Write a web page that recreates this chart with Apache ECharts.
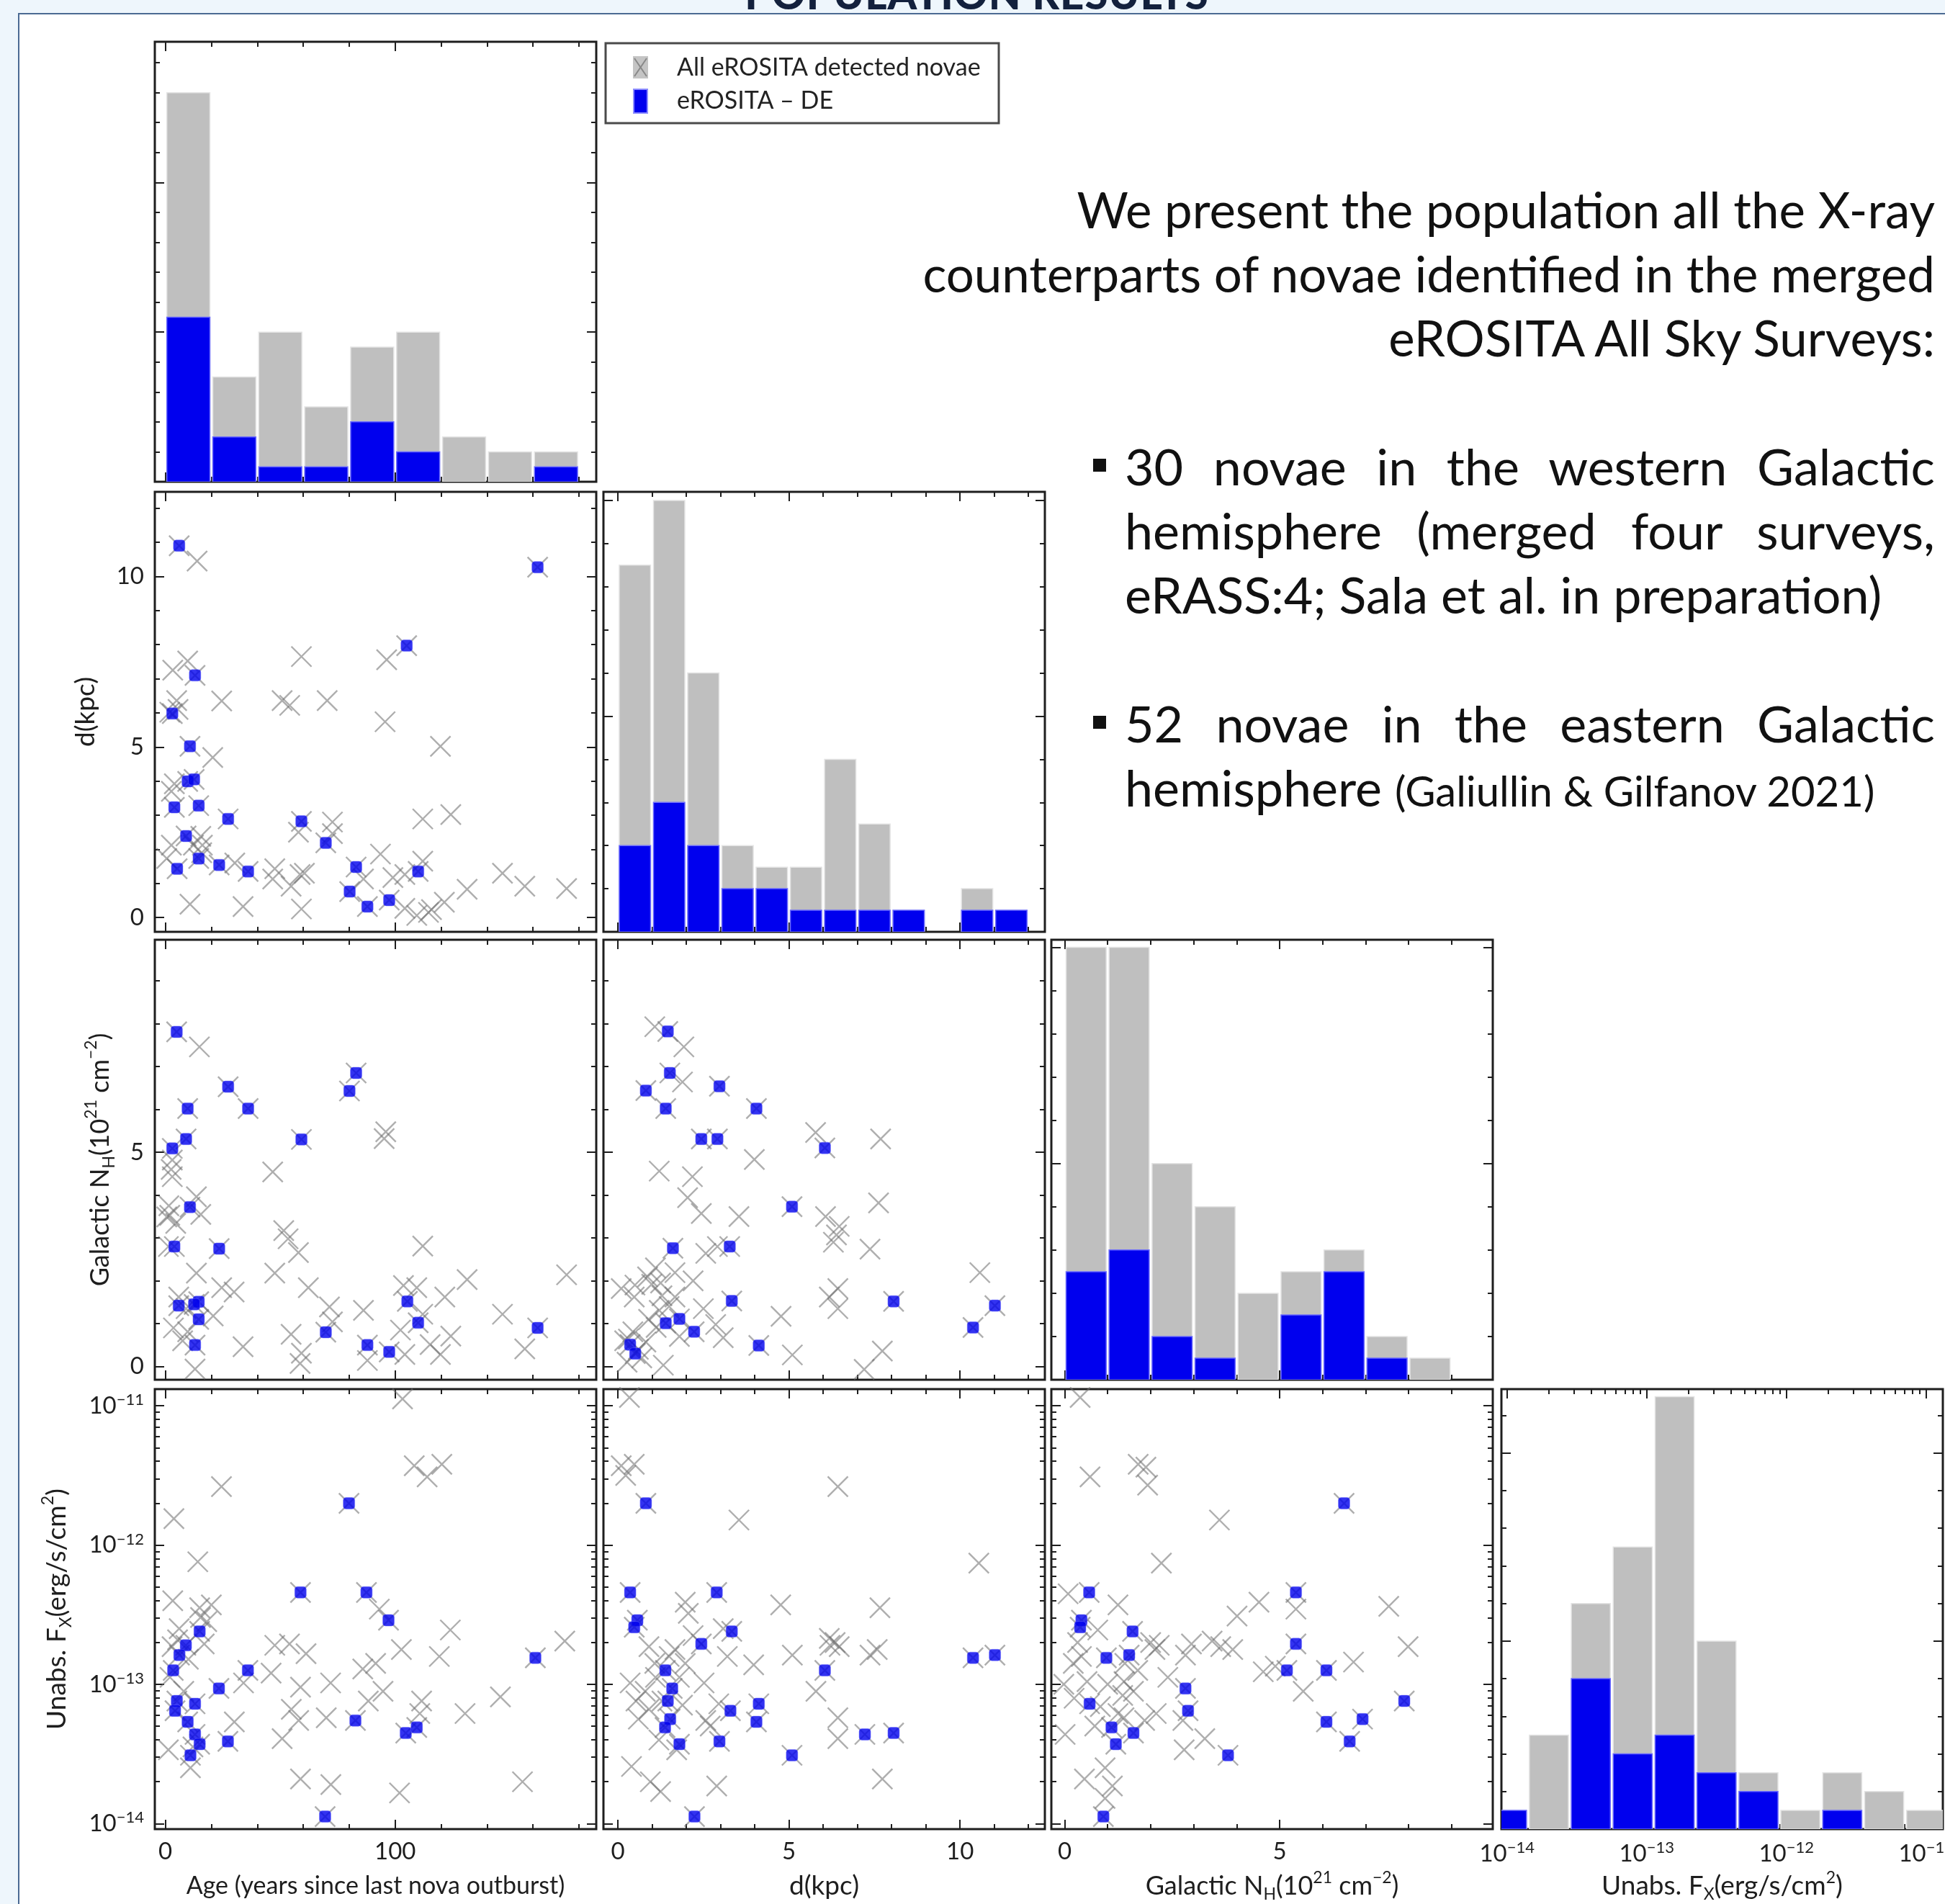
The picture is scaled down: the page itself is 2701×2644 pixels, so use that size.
<!DOCTYPE html>
<html>
<head>
<meta charset="utf-8">
<script src="https://cdn.jsdelivr.net/npm/echarts@6/dist/echarts.min.js"></script>
<style>
  html, body { margin: 0; padding: 0; width: 2701px; height: 2644px; overflow: hidden; background: #eef6fc; }
  #frame { position: absolute; left: 25px; top: 18px; width: 2680px; height: 2630px; background: #fff;
           border-left: 2px solid #4b6a93; border-top: 2px solid #4b6a93; }
  #title { position: absolute; left: 6px; width: 2701px; top: -44px; text-align: center;
           font: 900 58px/70px Lato, sans-serif; color: #13213d; letter-spacing: 1px; white-space: nowrap; }
  #chart { position: absolute; left: 0; top: 0; width: 2701px; height: 2644px; z-index: 1; }
  .txt { position: absolute; z-index: 2; font: 70px/89px Lato, sans-serif; color: #111; white-space: nowrap; }
  #intro { right: 14px; top: 246px; text-align: right; font-size: 69px; }
  .bul { left: 1562px; width: 1125px; }
  .bul .j { text-align: justify; text-align-last: justify; }
  .sq { position: absolute; z-index: 2; left: 1518px; width: 18px; height: 18px; background: #111; }
  .small { font-size: 58px; }
</style>
</head>
<body>
<div id="frame"></div>
<div id="title">POPULATION RESULTS</div>
<div id="chart"></div>
<div id="intro" class="txt">We present the population all the X-ray<br>counterparts of novae identified in the merged<br>eROSITA All Sky Surveys:</div>
<div class="sq" style="top:637px"></div>
<div class="txt bul" style="top:603px">
  <div class="j">30 novae in the western Galactic</div>
  <div class="j">hemisphere (merged four surveys,</div>
  <div>eRASS:4; Sala et al. in preparation)</div>
</div>
<div class="sq" style="top:994px"></div>
<div class="txt bul" style="top:960px">
  <div class="j">52 novae in the eastern Galactic</div>
  <div>hemisphere <span class="small">(Galiullin &amp; Gilfanov 2021)</span></div>
</div>
<script>
// ---- tick values ----
const ageTicksMajor = [0, 100];
const ageTicksMinor = [20, 40, 60, 80, 120, 140, 160, 180];
const dTicksMajor = [0, 5, 10];
const dTicksMinor = [1, 2, 3, 4, 6, 7, 8, 9, 11, 12];
const nhTicksMajor = [0, 5];
const nhTicksMinor = [1, 2, 3, 4, 6, 7, 8, 9];
const fxDecades = [-14, -13, -12, -11];
const countTicksMajor = [0, 10, 20];
const countTicksMinor = [2, 4, 6, 8, 12, 14, 16, 18, 22, 24, 26, 28];

// ---- histograms (counts) ----
const ageBins = [0, 20, 40, 60, 80, 100, 120, 140, 160, 180];
const ageHistAll = [26, 7, 10, 5, 9, 10, 3, 2, 2];
const ageHistDE = [11, 3, 1, 1, 4, 2, 0, 0, 1];
const dBins = [0, 1, 2, 3, 4, 5, 6, 7, 8, 9, 10, 11, 12];
const dHistAll = [17, 20, 12, 4, 3, 3, 8, 5, 1, 0, 2, 1];
const dHistDE = [4, 6, 4, 2, 2, 1, 1, 1, 1, 0, 1, 1];
const nhBins = [0, 1, 2, 3, 4, 5, 6, 7, 8, 9];
const nhHistAll = [20, 20, 10, 8, 4, 5, 6, 2, 1];
const nhHistDE = [5, 6, 2, 1, 0, 3, 5, 1, 0];
const fxBinsLog = [-14.15, -13.85, -13.55, -13.25, -12.95, -12.65, -12.35, -12.05, -11.75, -11.45, -11.15, -10.85];
const fxHistAll = [1, 5, 12, 15, 23, 10, 3, 1, 3, 2, 1];
const fxHistDE = [1, 0, 8, 4, 5, 3, 2, 0, 1, 0, 0];

// ---- scatter points: [x, y]; flux given as log10 ----
const ageD_de = [[6.0,10.9],[162,10.27],[105,7.97],[12.9,7.1],[3.0,5.98],[10.7,5.02],[9.7,3.99],[12.5,4.05],[3.9,3.23],[14.5,3.28],[27.3,2.89],[59.2,2.82],[69.8,2.19],[9.0,2.39],[14.5,1.73],[23.4,1.54],[5.1,1.43],[36.0,1.35],[83.0,1.48],[110.0,1.35],[80.2,0.76],[87.9,0.32],[97.4,0.51]];
const ageD_other = [[13.8,10.45],[59.2,7.65],[96.3,7.56],[3.2,7.25],[9.7,7.52],[4.9,6.36],[24.5,6.35],[50.8,6.36],[54.1,6.22],[70.4,6.36],[95.6,5.74],[119.7,5.02],[20.6,4.69],[1.9,6.02],[5.5,6.1],[3.9,3.92],[2.6,3.7],[112,2.89],[124.2,3.02],[57.9,2.5],[72.7,2.8],[72.7,2.46],[2.6,2.12],[12.2,2.12],[15.4,2.38],[16.1,2.12],[0.6,1.73],[15.8,1.9],[30.2,1.6],[47.6,1.43],[46.7,1.13],[54.7,0.92],[60.5,1.3],[58.6,1.26],[93.6,1.86],[86.2,1.13],[112,1.65],[99,1.17],[104.2,1.26],[146.7,1.3],[131.3,0.83],[156.4,0.92],[174.6,0.85],[10.7,0.39],[33.8,0.32],[59.2,0.25],[104.2,0.27],[109.4,0.06],[114.5,0.15],[121.4,0.45],[115.8,0.23]];

const ageNH_de = [[4.9,7.81],[27.3,6.53],[83.0,6.85],[80.1,6.43],[9.7,6.02],[36.0,6.02],[9.0,5.31],[3.0,5.09],[59.2,5.30],[10.7,3.72],[3.9,2.80],[23.4,2.75],[5.8,1.42],[14.5,1.51],[14.5,1.10],[12.9,0.50],[69.8,0.80],[87.9,0.50],[97.4,0.34],[105.3,1.52],[110.0,1.02],[162,0.90],[12.5,1.45]];
const ageNH_other = [[14.8,7.46],[46.7,4.54],[3.0,4.82],[3.0,4.43],[13.5,3.96],[15.4,3.55],[1.9,3.53],[4.5,3.34],[0.6,3.49],[1.3,2.80],[51.5,3.17],[53.4,2.98],[57.9,2.66],[95.9,5.48],[95.2,5.32],[112,2.81],[13.5,2.18],[47.6,2.18],[24.5,1.84],[29.9,1.74],[20.8,1.18],[5.8,1.62],[9.7,0.81],[62.2,1.84],[71.4,1.39],[72.7,1.04],[86.2,1.31],[54.7,0.75],[33.8,0.46],[59.2,0.31],[58.6,0.07],[12.9,-0.06],[87.9,0.14],[103.6,1.89],[109.4,1.84],[121.6,1.62],[131.3,2.03],[112,1.22],[102.3,0.85],[104.2,0.28],[115.2,0.51],[119.7,0.28],[124.2,0.71],[146.7,1.22],[156.4,0.41],[174.6,2.14],[3.5,0.9],[7.5,0.6],[9.0,1.35],[1.5,3.75],[2.5,4.6]];

const ageFx_de = [[79.9,-11.70],[58.8,-12.34],[87.5,-12.34],[97.1,-12.54],[161,-12.81],[14.9,-12.62],[8.9,-12.72],[6.1,-12.79],[3.4,-12.90],[35.9,-12.90],[23.3,-13.03],[5.0,-13.12],[4.2,-13.19],[12.9,-13.14],[9.7,-13.27],[12.9,-13.36],[14.9,-13.43],[10.9,-13.51],[27.2,-13.41],[82.7,-13.26],[104.6,-13.35],[109.4,-13.31],[69.5,-13.95]];
const ageFx_other = [[103.2,-10.95],[108.3,-11.43],[113.9,-11.51],[120.3,-11.42],[24.4,-11.58],[3.7,-11.81],[14.1,-12.12],[3.2,-12.40],[14.9,-12.45],[20.0,-12.43],[15.3,-12.52],[93.1,-12.46],[124.0,-12.61],[173.8,-12.69],[2.9,-12.73],[5.3,-12.68],[16.9,-12.71],[47.6,-12.72],[54.0,-12.71],[61.2,-12.78],[102.7,-12.75],[119.2,-12.80],[91.5,-12.85],[85.9,-12.89],[46.0,-12.92],[34.0,-12.99],[58.8,-13.02],[71.9,-12.99],[94.7,-13.05],[88.3,-13.12],[111.5,-13.12],[145.8,-13.09],[54.8,-13.18],[58.0,-13.26],[70.0,-13.24],[30.0,-13.27],[110.7,-13.21],[130.4,-13.21],[50.8,-13.39],[1.3,-13.47],[10.9,-13.60],[58.8,-13.68],[72.0,-13.72],[101.9,-13.78],[155.4,-13.70],[6.0,-12.6],[10.0,-12.82],[8.0,-13.05],[2.0,-12.95],[18.0,-12.55],[12.0,-13.45]];

const dNH_de = [[1.46,7.82],[1.52,6.85],[0.82,6.44],[1.40,6.02],[2.97,6.54],[4.05,6.02],[2.44,5.31],[2.91,5.31],[6.05,5.10],[5.09,3.73],[1.61,2.76],[3.27,2.80],[3.33,1.53],[8.06,1.52],[11.02,1.42],[10.38,0.91],[1.40,1.01],[1.80,1.11],[2.23,0.81],[4.12,0.49],[0.36,0.51],[0.51,0.30]];
const dNH_other = [[1.08,7.93],[1.93,7.46],[1.89,6.64],[5.78,5.46],[7.68,5.31],[3.99,4.83],[1.21,4.56],[2.18,4.43],[2.04,3.94],[2.44,3.57],[3.54,3.50],[7.62,3.82],[6.07,3.50],[6.47,3.27],[6.39,3.07],[6.30,2.90],[7.37,2.74],[2.57,2.64],[2.91,2.80],[10.58,2.19],[0.10,1.82],[0.48,1.62],[0.87,2.09],[0.99,1.92],[1.25,1.95],[1.67,2.19],[1.29,1.65],[1.67,1.62],[1.21,1.31],[2.50,1.35],[2.86,0.98],[3.08,0.67],[4.77,1.17],[6.43,1.82],[6.18,1.62],[6.43,1.35],[5.10,0.27],[7.20,-0.07],[7.73,0.36],[1.33,0.03],[0.44,0.81],[0.82,0.57],[0.27,0.10],[0.70,0.20],[1.12,0.91],[0.31,0.64],[0.6,0.4],[0.9,1.1],[1.5,1.4],[0.2,0.6],[1.1,2.3],[2.2,2.0],[0.5,1.9],[1.8,0.7]];

const dFx_de = [[0.82,-11.70],[0.36,-12.34],[2.89,-12.34],[0.57,-12.54],[0.48,-12.59],[3.33,-12.62],[2.44,-12.71],[10.38,-12.81],[11.02,-12.79],[1.39,-12.90],[6.05,-12.90],[1.59,-13.03],[1.46,-13.12],[4.12,-13.14],[3.29,-13.19],[4.05,-13.27],[1.53,-13.25],[1.38,-13.31],[7.22,-13.36],[8.06,-13.35],[1.80,-13.43],[2.97,-13.41],[5.09,-13.51],[2.24,-13.95]];
const dFx_other = [[0.34,-10.94],[0.10,-11.43],[0.48,-11.42],[0.23,-11.50],[6.43,-11.58],[3.54,-11.82],[10.55,-12.13],[4.76,-12.43],[7.66,-12.45],[1.97,-12.41],[2.06,-12.49],[6.18,-12.67],[6.35,-12.70],[6.47,-12.73],[7.58,-12.75],[7.37,-12.79],[5.10,-12.79],[3.97,-12.86],[3.08,-12.60],[0.91,-12.73],[1.08,-12.85],[1.67,-12.75],[1.97,-12.85],[0.36,-12.99],[2.52,-12.99],[5.79,-13.05],[0.53,-13.12],[0.91,-13.18],[2.57,-13.26],[2.95,-13.14],[6.43,-13.24],[6.43,-13.39],[1.72,-13.47],[0.40,-13.59],[0.95,-13.70],[1.25,-13.77],[2.89,-13.73],[7.73,-13.68],[1.29,-13.12],[1.89,-13.15],[1.1,-12.95],[1.8,-12.95],[0.8,-13.05],[2.2,-12.65],[1.5,-12.8],[0.6,-13.25],[2.7,-13.3],[1.2,-13.4],[3.2,-12.8],[6.2,-12.72]];

const nhFx_de = [[6.50,-11.70],[0.57,-12.34],[5.38,-12.34],[0.39,-12.54],[0.36,-12.59],[1.58,-12.62],[5.38,-12.71],[0.97,-12.81],[1.50,-12.79],[5.17,-12.90],[6.09,-12.90],[2.81,-13.03],[0.58,-13.14],[7.90,-13.12],[2.87,-13.19],[1.09,-13.31],[1.60,-13.35],[6.09,-13.27],[6.93,-13.25],[6.63,-13.41],[1.19,-13.43],[3.80,-13.51],[0.90,-13.95]];
const nhFx_other = [[0.36,-10.94],[0.59,-11.51],[1.71,-11.42],[1.89,-11.44],[1.93,-11.57],[3.60,-11.82],[2.25,-12.13],[0.08,-12.35],[1.24,-12.43],[4.01,-12.51],[4.52,-12.41],[5.38,-12.46],[7.54,-12.44],[0.77,-12.61],[0.39,-12.80],[2.0,-12.70],[2.2,-12.72],[2.10,-12.75],[2.81,-12.79],[2.95,-12.71],[3.43,-12.69],[3.63,-12.73],[3.91,-12.75],[7.99,-12.73],[6.72,-12.84],[4.62,-12.91],[4.90,-12.87],[5.55,-13.05],[-0.02,-13.0],[0.52,-12.98],[0.22,-13.10],[1.38,-12.98],[1.35,-13.08],[1.24,-13.21],[1.38,-13.24],[2.13,-13.21],[1.86,-13.26],[2.75,-13.26],[0.83,-13.16],[2.78,-13.47],[3.26,-13.39],[0.01,-13.36],[0.46,-13.68],[0.94,-13.60],[1.11,-13.73],[0.94,-13.82],[0.2,-12.85],[1.0,-13.0],[0.7,-13.3],[1.7,-12.9],[1.4,-12.85],[0.3,-12.7],[1.6,-13.05],[2.4,-12.95]];

// ---- layout ----
const PW = 613, PH = 611;
const colLeft = [215, 838, 1460, 2085];
const rowTop = [58, 683, 1305, 1929];
const FONT = 'Lato';
const INK = '#1e1e1e';
const GRAY_BAR = '#bfbfbf';
const BLUE = '#0000ee';

const fxMinor = [];
[-15, -14, -13, -12, -11].forEach(e => { for (let k = 2; k <= 9; k++) fxMinor.push(k * Math.pow(10, e)); });
const expLabel = v => {
  const e = Math.round(Math.log10(v));
  return '{b|10}{s|' + (e < 0 ? '\u2212' : '') + Math.abs(e) + '}';
};

const AX = {
  age: { type: 'value', min: -4.6, max: 187.5, major: ageTicksMajor, minor: ageTicksMinor, labels: [0, 100] },
  d:   { type: 'value', min: -0.42, max: 12.48, major: dTicksMajor, minor: dTicksMinor, labels: [0, 5, 10] },
  nh:  { type: 'value', min: -0.31, max: 9.96, major: nhTicksMajor, minor: nhTicksMinor, labels: [0, 5] },
  fx:  { type: 'log', min: Math.pow(10, -14.04), max: Math.pow(10, -10.88),
         major: fxDecades.map(e => Math.pow(10, e)), minor: fxMinor,
         labels: fxDecades.map(e => Math.pow(10, e)), fmt: expLabel }
};
const countAxis = max => ({ type: 'value', min: 0, max: max, major: countTicksMajor, minor: countTicksMinor, labels: [] });

const NAMES = {
  age: { text: 'Age (years since last nova outburst)', size: 34 },
  d:   { text: 'd(kpc)', size: 37 },
  nh:  { text: 'Galactic N{sub|H}(10{sup|21} cm{sup|\u22122})', size: 36 },
  fx:  { text: 'Unabs. F{sub|X}(erg/s/cm{sup|2})', size: 37 }
};
const yNameGap = { d: 72, nh: 52, fx: 112 };

const conv = (key, v) => key === 'fx' ? Math.pow(10, v) : v;
const pts = (arr, kx, ky) => arr.map(p => [conv(kx, p[0]), conv(ky, p[1])]);

const panels = [
  { r: 0, c: 0, x: 'age', hist: { bins: ageBins, all: ageHistAll, de: ageHistDE, ymax: 29.4 } },
  { r: 1, c: 0, x: 'age', y: 'd', other: ageD_other, de: ageD_de },
  { r: 1, c: 1, x: 'd', hist: { bins: dBins, all: dHistAll, de: dHistDE, ymax: 20.4 } },
  { r: 2, c: 0, x: 'age', y: 'nh', other: ageNH_other, de: ageNH_de },
  { r: 2, c: 1, x: 'd', y: 'nh', other: dNH_other, de: dNH_de },
  { r: 2, c: 2, x: 'nh', hist: { bins: nhBins, all: nhHistAll, de: nhHistDE, ymax: 20.35 } },
  { r: 3, c: 0, x: 'age', y: 'fx', other: ageFx_other, de: ageFx_de },
  { r: 3, c: 1, x: 'd', y: 'fx', other: dFx_other, de: dFx_de },
  { r: 3, c: 2, x: 'nh', y: 'fx', other: nhFx_other, de: nhFx_de },
  { r: 3, c: 3, x: 'fx', hist: { bins: fxBinsLog, all: fxHistAll, de: fxHistDE, ymax: 23.4 } }
];

const nameRich = {
  sub: { fontFamily: FONT, fontSize: 23, lineHeight: 24, verticalAlign: 'bottom', color: INK },
  sup: { fontFamily: FONT, fontSize: 23, lineHeight: 24, verticalAlign: 'top', color: INK }
};
const labelRich = {
  b: { fontFamily: FONT, fontSize: 33, lineHeight: 38, color: INK },
  s: { fontFamily: FONT, fontSize: 22, lineHeight: 22, verticalAlign: 'top', color: INK }
};

const grids = [], xAxes = [], yAxes = [], series = [];

function pushAxes(list, gi, def, sides, labelled, nameCfg) {
  const first = list.length;
  sides.forEach((side, si) => {
    ['major', 'minor'].forEach(kind => {
      const main = si === 0 && kind === 'major';
      const ax = {
        gridIndex: gi, type: def.type, min: def.min, max: def.max, position: side,
        axisLine: { show: false, onZero: false },
        splitLine: { show: false },
        minorTick: { show: false },
        axisTick: { show: true, inside: true, length: kind === 'major' ? 13 : 7,
                    customValues: def[kind], lineStyle: { color: INK, width: 2 } },
        axisLabel: { show: false }
      };
      if (def.type === 'log') ax.logBase = 10;
      if (main && labelled) {
        ax.axisLabel = { show: true, customValues: def.labels, margin: 15,
                         fontFamily: FONT, fontSize: 33, color: INK, rich: labelRich };
        if (def.fmt) ax.axisLabel.formatter = def.fmt;
      }
      if (main && nameCfg) Object.assign(ax, nameCfg);
      list.push(ax);
    });
  });
  return first;
}

panels.forEach((p, gi) => {
  grids.push({ left: colLeft[p.c], top: rowTop[p.r], width: PW, height: PH, show: true,
               borderColor: INK, borderWidth: 3, backgroundColor: '#fff', containLabel: false,
               outerBoundsMode: 'none' });
  const xdef = AX[p.x];
  const ydef = p.hist ? countAxis(p.hist.ymax) : AX[p.y];
  const xName = p.r === 3 ? {
    name: NAMES[p.x].text, nameLocation: 'middle', nameGap: 56,
    nameTextStyle: { fontFamily: FONT, fontSize: NAMES[p.x].size, lineHeight: 46, color: INK, rich: nameRich }
  } : null;
  const yName = (p.c === 0 && !p.hist) ? {
    name: NAMES[p.y].text, nameLocation: 'middle', nameRotate: 90, nameGap: yNameGap[p.y],
    nameTextStyle: { fontFamily: FONT, fontSize: NAMES[p.y].size, lineHeight: 48, color: INK, rich: nameRich }
  } : null;
  const xi = pushAxes(xAxes, gi, xdef, ['bottom', 'top'], p.r === 3, xName);
  const yi = pushAxes(yAxes, gi, ydef, ['left', 'right'], p.c === 0 && !p.hist, yName);

  if (p.hist) {
    const toX = p.x === 'fx' ? (v => Math.pow(10, v)) : (v => v);
    const mk = (counts, color, edge, z) => ({
      type: 'custom', xAxisIndex: xi, yAxisIndex: yi, clip: true, z: z,
      data: counts.map((c, i) => [toX(p.hist.bins[i]), toX(p.hist.bins[i + 1]), c]).filter(d => d[2] > 0),
      encode: { x: [0, 1], y: 2 },
      renderItem: (params, api) => {
        const a = api.coord([api.value(0), api.value(2)]);
        const b = api.coord([api.value(1), 0]);
        return { type: 'rect',
                 shape: { x: a[0] + 2, y: a[1], width: b[0] - a[0] - 4, height: b[1] - a[1] },
                 style: { fill: color, stroke: edge, lineWidth: 1.5 } };
      }
    });
    series.push(mk(p.hist.all, GRAY_BAR, '#e4e4e4', 2));
    series.push(mk(p.hist.de, BLUE, '#6a6aff', 3));
  } else {
    series.push({
      type: 'scatter', xAxisIndex: xi, yAxisIndex: yi, z: 3,
      data: pts(p.other.concat(p.de), p.x, p.y),
      symbol: 'path://M0,0L10,10M10,0L0,10', symbolSize: 28,
      itemStyle: { color: 'none', borderColor: 'rgba(110,110,110,0.7)', borderWidth: 2.4 }
    });
    series.push({
      type: 'scatter', xAxisIndex: xi, yAxisIndex: yi, z: 4,
      data: pts(p.de, p.x, p.y),
      symbol: 'roundRect', symbolSize: 16,
      itemStyle: { color: BLUE, borderColor: 'rgba(110,110,255,0.6)', borderWidth: 1 }
    });
  }
});

const legend = [
  { type: 'rect', shape: { x: 841, y: 60, width: 546, height: 111 }, style: { fill: '#fff', stroke: '#4a4a4a', lineWidth: 3 } },
  { type: 'rect', shape: { x: 879, y: 78, width: 21, height: 31 }, style: { fill: '#c4c4c4' } },
  { type: 'line', shape: { x1: 881, y1: 81, x2: 898, y2: 106 }, style: { stroke: '#888', lineWidth: 2 } },
  { type: 'line', shape: { x1: 898, y1: 81, x2: 881, y2: 106 }, style: { stroke: '#888', lineWidth: 2 } },
  { type: 'text', x: 940, y: 94, style: { text: 'All eROSITA detected novae', font: '34px Lato', fill: '#222', verticalAlign: 'middle' } },
  { type: 'rect', shape: { x: 880, y: 124, width: 19, height: 33 }, style: { fill: BLUE, stroke: '#8c8cff', lineWidth: 2 } },
  { type: 'text', x: 940, y: 140, style: { text: 'eROSITA \u2013 DE', font: '34px Lato', fill: '#222', verticalAlign: 'middle' } }
];

const chart = echarts.init(document.getElementById('chart'), null, { renderer: 'canvas', width: 2701, height: 2644 });
chart.setOption({
  backgroundColor: 'transparent',
  animation: false,
  grid: grids,
  xAxis: xAxes,
  yAxis: yAxes,
  series: series,
  graphic: legend
});
</script>
</body>
</html>
